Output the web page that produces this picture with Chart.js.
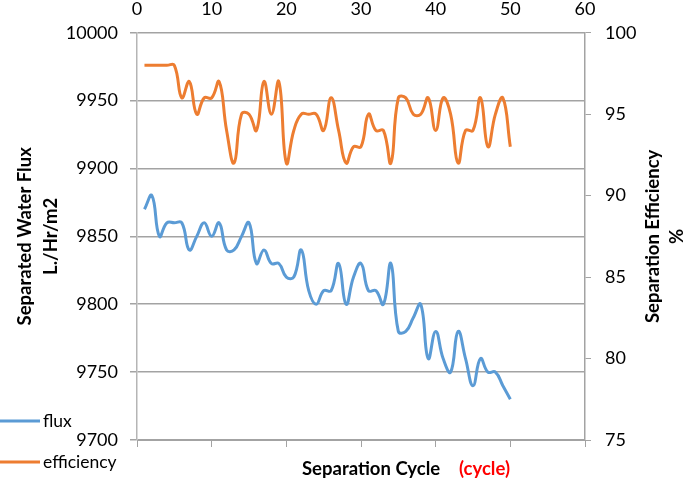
<!DOCTYPE html>
<html>
<head>
<meta charset="utf-8">
<script src="https://cdn.jsdelivr.net/npm/chart.js@4.4.1/dist/chart.umd.min.js"></script>
<style>
  html, body { margin: 0; padding: 0; background: #fff; }
  #wrap { width: 685px; height: 478px; }
</style>
</head>
<body>
<div id="wrap"><canvas id="cycleChart" width="685" height="478"></canvas></div>
<script>
// separation cycle number for every measurement
const cycles = [1, 2, 3, 4, 5, 6, 7, 8, 9, 10, 11, 12, 13, 14, 15, 16, 17, 18, 19, 20,
    21, 22, 23, 24, 25, 26, 27, 28, 29, 30, 31, 32, 33, 34, 35, 36, 37, 38, 39, 40,
    41, 42, 43, 44, 45, 46, 47, 48, 49, 50];

// separated water flux, L./Hr/m2
const flux = [9870, 9880, 9850, 9860, 9860, 9860, 9840, 9850, 9860, 9850,
    9860, 9840, 9840, 9850, 9860, 9830, 9840, 9830, 9830, 9820,
    9820, 9840, 9810, 9800, 9810, 9810, 9830, 9800, 9820, 9830,
    9810, 9810, 9800, 9830, 9780, 9780, 9790, 9800, 9760, 9780,
    9760, 9750, 9780, 9760, 9740, 9760, 9750, 9750, 9740, 9730];

// separation efficiency, %
const efficiency = [98, 98, 98, 98, 98, 96, 97, 95, 96, 96,
    97, 94, 92, 95, 95, 94, 97, 95, 97, 92,
    94, 95, 95, 95, 94, 96, 94, 92, 93, 93,
    95, 94, 94, 92, 96, 96, 95, 95, 96, 94,
    96, 95, 92, 94, 94, 96, 93, 95, 96, 93];

const FLUX_COLOR = '#5b9bd5';
const EFF_COLOR = '#ed7d31';
const GRID = '#a3a3a3';
const FONT = 'Lato, Carlito, Calibri, "Open Sans", sans-serif';

// axis titles and the little legend in the lower left corner
const extrasPlugin = {
    id: 'extras',
    afterDraw(chart) {
        const ctx = chart.ctx;
        const area = chart.chartArea;
        const cy = (area.top + area.bottom) / 2;

        ctx.save();
        ctx.fillStyle = '#000';
        ctx.font = 'bold 18.5px ' + FONT;
        ctx.textAlign = 'center';
        ctx.textBaseline = 'middle';

        // left title, two lines, reading bottom to top
        ctx.save();
        ctx.translate(25, cy);
        ctx.rotate(-Math.PI / 2);
        ctx.fillText('Separated Water Flux', 0, 0);
        ctx.fillText('L./Hr/m2', 0, 26);
        ctx.restore();

        // right title, also reading bottom to top
        ctx.save();
        ctx.translate(653, cy);
        ctx.rotate(-Math.PI / 2);
        ctx.fillText('Separation Efficiency', 0, 0);
        ctx.fillText('%', 0, 24);
        ctx.restore();

        // bottom title in two colours
        ctx.textAlign = 'left';
        ctx.fillText('Separation Cycle', 302, 469);
        ctx.fillStyle = '#ff0000';
        ctx.fillText('(cycle)', 459, 469);

        // legend
        ctx.font = '17.5px ' + FONT;
        ctx.fillStyle = '#000';
        ctx.lineWidth = 3;
        chart.data.datasets.forEach((ds, i) => {
            const y = 421 + i * 41;
            ctx.strokeStyle = ds.borderColor;
            ctx.beginPath();
            ctx.moveTo(0, y);
            ctx.lineTo(40, y);
            ctx.stroke();
            ctx.fillText(ds.label, 43, y);
        });
        ctx.restore();
    }
};

const tickFont = { family: FONT, size: 18 };
const plain = v => String(v);

const ctx = document.getElementById('cycleChart').getContext('2d');
new Chart(ctx, {
    type: 'line',
    data: {
        datasets: [
            {
                label: 'flux',
                data: cycles.map((c, i) => ({ x: c, y: flux[i] })),
                borderColor: FLUX_COLOR,
                borderWidth: 3,
                pointRadius: 0,
                tension: 0.45,
                xAxisID: 'x',
                yAxisID: 'y'
            },
            {
                label: 'efficiency',
                data: cycles.map((c, i) => ({ x: c, y: efficiency[i] })),
                borderColor: EFF_COLOR,
                borderWidth: 3,
                pointRadius: 0,
                tension: 0.45,
                xAxisID: 'x',
                yAxisID: 'y1'
            }
        ]
    },
    options: {
        responsive: false,
        devicePixelRatio: 1,
        animation: false,
        layout: { padding: 0 },
        plugins: {
            legend: { display: false },
            tooltip: { enabled: false }
        },
        scales: {
            x: {
                type: 'linear',
                position: 'bottom',
                min: 0,
                max: 60,
                ticks: { stepSize: 10, display: false },
                grid: { drawOnChartArea: false, color: GRID, tickLength: 7 },
                border: { color: GRID },
                afterFit: s => { s.height = 38; }
            },
            x2: {
                type: 'linear',
                position: 'top',
                min: 0,
                max: 60,
                ticks: { stepSize: 10, color: '#000', font: tickFont, padding: 13, callback: plain },
                grid: { display: false, drawTicks: false },
                border: { display: false },
                afterFit: s => { s.height = 32.7; }
            },
            y: {
                position: 'left',
                min: 9700,
                max: 10000,
                ticks: { stepSize: 50, color: '#000', font: tickFont, padding: 12, callback: plain },
                grid: { color: GRID, lineWidth: 1.5, tickLength: 7 },
                border: { color: '#b5b5b5', width: 1.5 },
                afterFit: s => { s.width = 137; }
            },
            y1: {
                position: 'right',
                min: 75,
                max: 100,
                ticks: { stepSize: 5, color: '#000', font: tickFont, padding: 14, callback: plain },
                grid: { drawOnChartArea: false, color: GRID, tickLength: 6 },
                border: { color: GRID, width: 1.5 },
                afterFit: s => { s.width = 100; }
            }
        }
    },
    plugins: [extrasPlugin]
});
</script>
</body>
</html>
